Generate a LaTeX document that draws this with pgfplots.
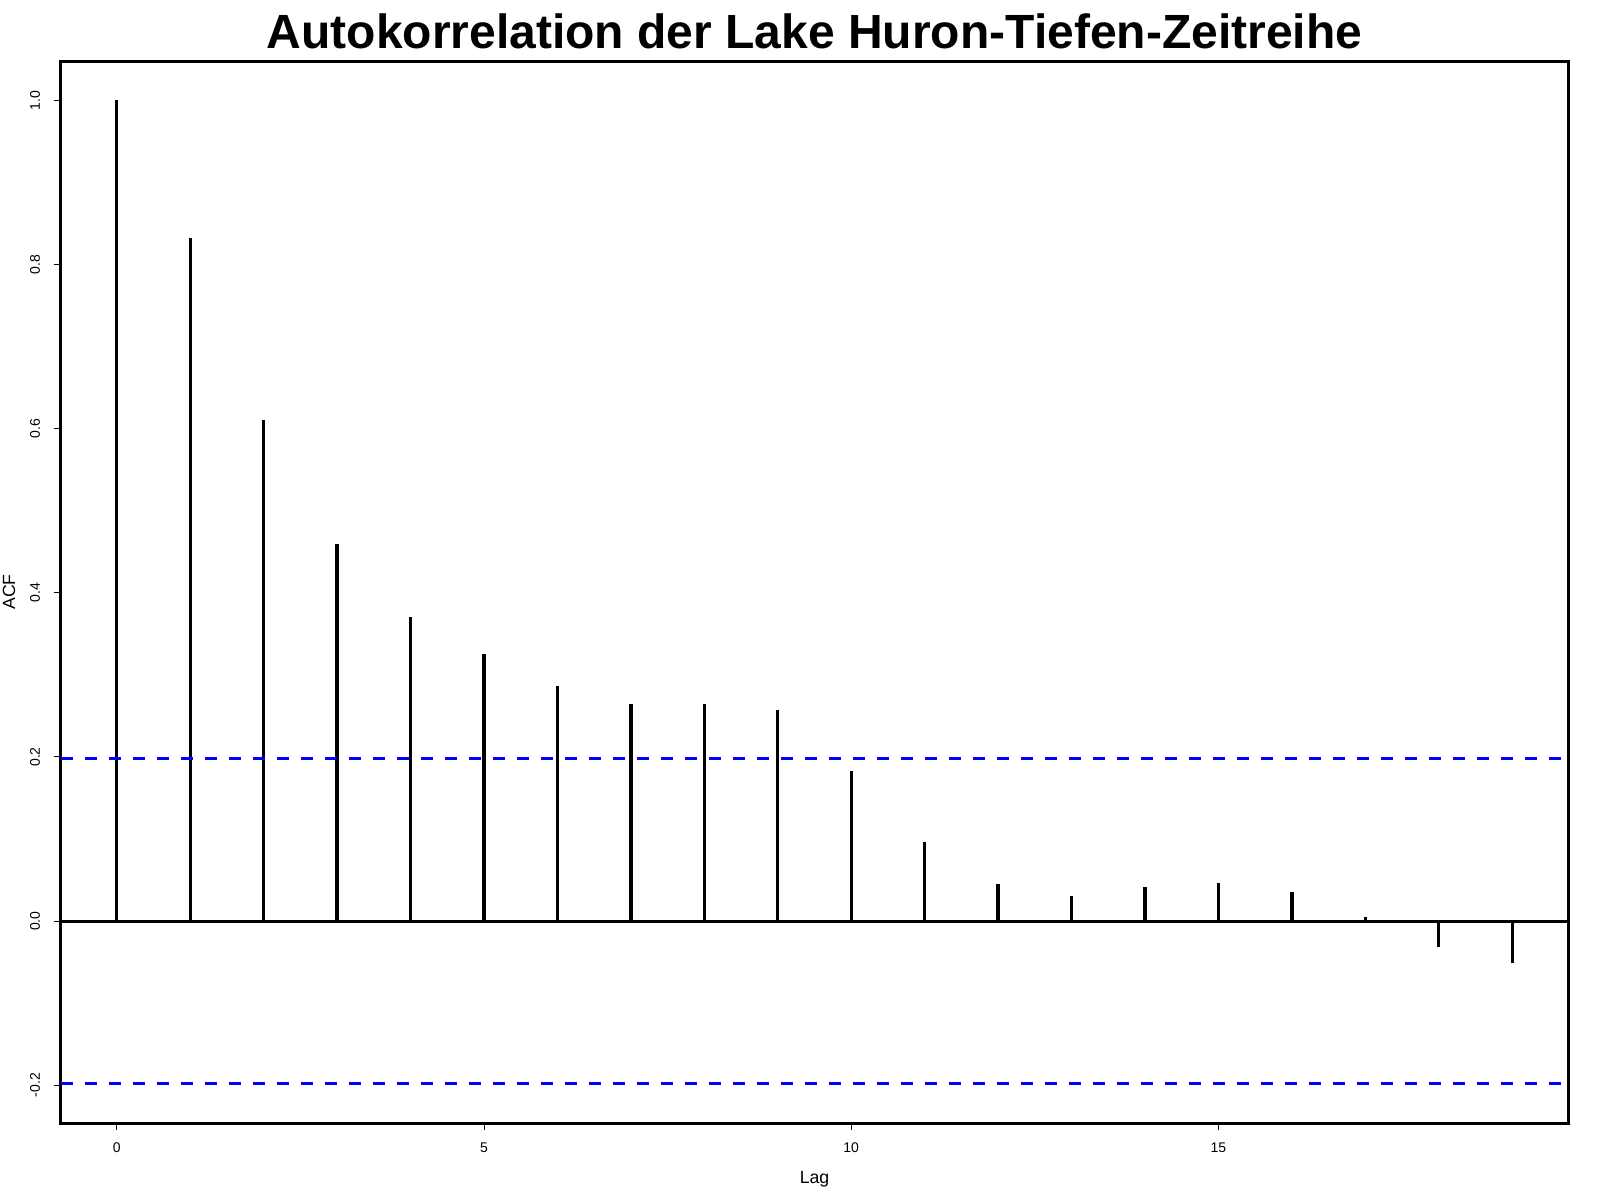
\documentclass[border=0pt]{standalone}
\usepackage{fontspec}
\setmainfont{Liberation Sans}
\usepackage{pgfplots}
\pgfplotsset{compat=1.18}

% ACF of the Lake Huron depth series, lags 0..19
\pgfplotstableread{
lag acf
0 1.000
1 0.832
2 0.610
3 0.459
4 0.371
5 0.326
6 0.286
7 0.265
8 0.265
9 0.257
10 0.183
11 0.096
12 0.045
13 0.030
14 0.041
15 0.046
16 0.036
17 0.005
18 -0.031
19 -0.051
}\acfdata

\begin{document}
\begin{tikzpicture}
\useasboundingbox (0,0) rectangle (480pt,360pt);
\begin{axis}[
    at={(18.3pt,23.1pt)}, anchor=south west,
    scale only axis,
    width=452.1pt, height=318.6pt,
    xmin=-0.76, xmax=19.76,
    ymin=-0.246, ymax=1.048,
    axis line style={line width=0.9pt},
    xtick={0,5,10,15},
    ytick={-0.2,0,0.2,0.4,0.6,0.8,1.0},
    tick align=outside,
    xtick pos=bottom, ytick pos=left,
    major tick length=2.1pt,
    every tick/.style={black, line width=0.3pt},
    /pgf/number format/assume math mode=true,
    y tick label style={/pgf/number format/fixed, /pgf/number format/fixed zerofill,
        /pgf/number format/precision=1},
    tick label style={font=\fontsize{4.2}{5}\selectfont, inner sep=0pt},
    xticklabel style={anchor=base},
    xticklabel shift=6.6pt,
    yticklabel style={rotate=90, anchor=base},
    yticklabel shift=4.2pt,
    title={Autokorrelation der Lake Huron-Tiefen-Zeitreihe},
    every axis title shift=0pt,
    title style={at={(axis description cs:0.5,1.0122)}, anchor=base, yshift=0pt,
        font=\fontsize{14.4}{16}\selectfont\bfseries, inner sep=0pt},
    xlabel={Lag},
    xlabel style={at={(axis description cs:0.5,-0.0565)}, anchor=base,
        font=\fontsize{5.3}{6}\selectfont, inner sep=0pt},
    ylabel={ACF},
    ylabel style={at={(axis description cs:-0.0305,0.5)}, rotate=0, anchor=base,
        font=\fontsize{5.3}{6}\selectfont, inner sep=0pt},
    clip=false,
]
\addplot[ycomb, black, line width=1pt, mark=none] table[x=lag, y=acf] {\acfdata};
\addplot[black, line width=0.9pt] coordinates {(-0.76,0) (19.76,0)};
\addplot[blue, line width=0.9pt, dash pattern=on 3.6pt off 3.6pt] coordinates {(-0.76,0.198) (19.76,0.198)};
\addplot[blue, line width=0.9pt, dash pattern=on 3.6pt off 3.6pt] coordinates {(-0.76,-0.198) (19.76,-0.198)};
\end{axis}
\end{tikzpicture}
\end{document}
